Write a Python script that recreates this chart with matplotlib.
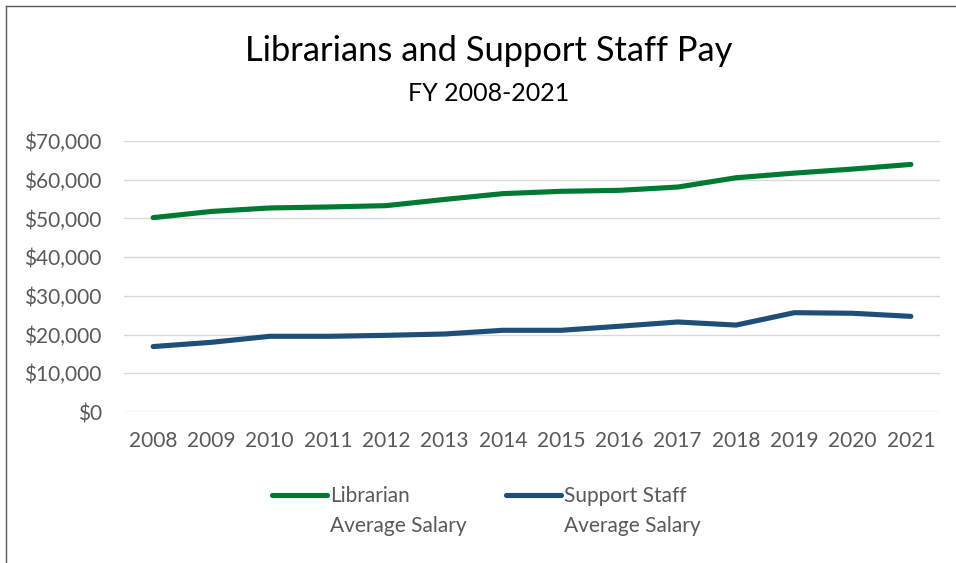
import matplotlib
matplotlib.use("Agg")
import matplotlib.pyplot as plt
from matplotlib.lines import Line2D
from matplotlib.ticker import FuncFormatter

years = list(range(2008, 2022))
librarian = [50200, 51800, 52700, 52950, 53300, 54900, 56400,
             57000, 57250, 58100, 60500, 61700, 62750, 63950]
support = [16900, 18000, 19550, 19550, 19800, 20150, 21100,
           21100, 22150, 23250, 22450, 25650, 25500, 24700]

series_names = ["Librarian", "Support Staff"]
second_line = "Average Salary"
colors = ["#007A33", "#1F4E79"]
grey = "#595959"

plt.rcParams["font.family"] = ["Lato", "DejaVu Sans"]

fig = plt.figure(figsize=(9.56, 5.63), dpi=100)
ax = fig.add_axes([0.1297, 0.2682, 0.8536, 0.4814])

for vals, c in zip([librarian, support], colors):
    ax.plot(years, vals, color=c, lw=3.7, solid_capstyle="round", solid_joinstyle="round")

ax.set_ylim(0, 70000)
ax.set_xlim(2007.5, 2021.5)
ax.set_xticks(years)
ax.set_yticks(range(0, 70001, 10000))
ax.yaxis.set_major_formatter(FuncFormatter(lambda v, p: f"${v:,.0f}"))
ax.grid(axis="y", color="#D9D9D9", lw=1)
ax.set_axisbelow(True)
for s in ax.spines.values():
    s.set_visible(False)
ax.tick_params(length=0, labelsize=15, labelcolor=grey)
ax.tick_params(axis="y", pad=16)
ax.tick_params(axis="x", pad=14)

fig.text(0.511, 0.91, "Librarians and Support Staff Pay", ha="center", va="center", fontsize=24.8)
fig.text(0.511, 0.834, "FY 2008-2021", ha="center", va="center", fontsize=18)

# legend: handle next to the first line, second line underneath the label
handles = [Line2D([], [], color=c, lw=3.7, solid_capstyle="round") for c in colors]
leg = fig.legend(handles, series_names, loc="center left", bbox_to_anchor=(0.265, 0.119),
                 ncol=2, frameon=False, fontsize=15, labelcolor=grey,
                 handlelength=2.65, handletextpad=0.15, columnspacing=4.6)
fig.canvas.draw()
inv = fig.transFigure.inverted()
for t in leg.get_texts():
    bb = t.get_window_extent()
    x0, y0 = inv.transform((bb.x0, bb.y0))
    fig.text(x0, y0 - 0.054, second_line, fontsize=15, color=grey, ha="left", va="bottom")

# frame edges along the top and left
fig.add_artist(Line2D([0.0065, 1.0], [0.989, 0.989], transform=fig.transFigure, color="#595959", lw=1))
fig.add_artist(Line2D([0.0065, 0.0065], [0.0, 0.989], transform=fig.transFigure, color="#595959", lw=1))

fig.savefig("out.png", dpi=100)
